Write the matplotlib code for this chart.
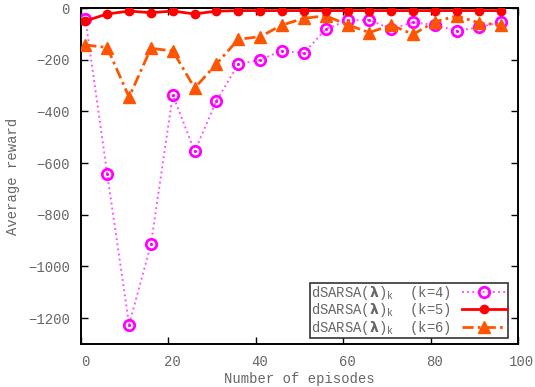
import matplotlib
matplotlib.use("Agg")
import matplotlib.pyplot as plt
import matplotlib.transforms as mtransforms

episodes = [1, 6, 11, 16, 21, 26, 31, 36, 41, 46, 51, 56, 61, 66, 71, 76, 81, 86, 91, 96]
k4 = [-42, -642, -1225, -915, -336, -555, -359, -217, -201, -165, -175, -82, -48, -46, -82, -55, -66, -88, -75, -55]
k5 = [-50, -23, -12, -18, -12, -23, -12, -10, -10, -10, -10, -10, -10, -10, -10, -10, -10, -10, -10, -10]
k6 = [-143, -153, -345, -156, -166, -310, -216, -121, -111, -66, -40, -30, -65, -95, -66, -102, -53, -31, -57, -66]
labels = [r'dSARSA($\boldsymbol{\lambda}$)$_\mathrm{k}$  (k=4)',
          r'dSARSA($\boldsymbol{\lambda}$)$_\mathrm{k}$  (k=5)',
          r'dSARSA($\boldsymbol{\lambda}$)$_\mathrm{k}$  (k=6)']
xticks = [0, 20, 40, 60, 80, 100]
yticks = [0, -200, -400, -600, -800, -1000, -1200]

plt.rcParams['font.family'] = ['Liberation Mono', 'DejaVu Sans']
plt.rcParams['mathtext.fontset'] = 'custom'
plt.rcParams['mathtext.rm'] = 'Liberation Mono'
plt.rcParams['mathtext.bf'] = 'DejaVu Sans:bold'

fig = plt.figure(figsize=(5.35, 3.87), dpi=100)
ax = fig.add_axes([81/535, 1-344/387, (518-81)/535, (344-8)/387])

grey = '#666666'
ax.plot(episodes, k4, linestyle=':', color='#ff55ff', linewidth=1.4,
        marker='o', markersize=7.5, markerfacecolor='none', markeredgecolor='#ff00ff',
        markeredgewidth=2, label=labels[0], zorder=3)
ax.plot(episodes, k4, linestyle='none', marker='.', markersize=2.5, color='#ff00ff', zorder=3)
ax.plot(episodes, k5, linestyle='-', color='#ff0000', linewidth=2,
        marker='o', markersize=6, label=labels[1], zorder=4)
ax.plot(episodes, k6, linestyle=(0, (4, 1.5, 1, 1.5)), color='#ff5500', linewidth=2,
        marker='^', markersize=8.5, label=labels[2], zorder=3)

ax.set_xlim(0, 100)
ax.set_ylim(-1300, 0)
ax.set_xticks(xticks)
ax.set_yticks(yticks)
ax.tick_params(direction='in', top=True, right=True, length=5, width=1,
               labelsize=10, labelcolor=grey, pad=8)
for lab in ax.get_xticklabels():
    lab.set_transform(lab.get_transform() + mtransforms.ScaledTranslation(4/100, 0, fig.dpi_scale_trans))
for s in ax.spines.values():
    s.set_linewidth(1.4)
ax.set_xlabel('Number of episodes', fontsize=10, color=grey, labelpad=2)
ax.set_ylabel('Average reward', fontsize=10, color=grey, labelpad=6)

leg = ax.legend(loc='lower right', bbox_to_anchor=(508/535, 1-338/387), bbox_transform=fig.transFigure,
                markerfirst=False, fontsize=10, fancybox=False, framealpha=1,
                edgecolor='#333333', handlelength=3.2, borderpad=0.1, labelspacing=-0.05,
                handletextpad=0.8, borderaxespad=0)
leg.get_frame().set_linewidth(1.2)
for t in leg.get_texts():
    t.set_color(grey)

fig.savefig('out.png', dpi=100)
